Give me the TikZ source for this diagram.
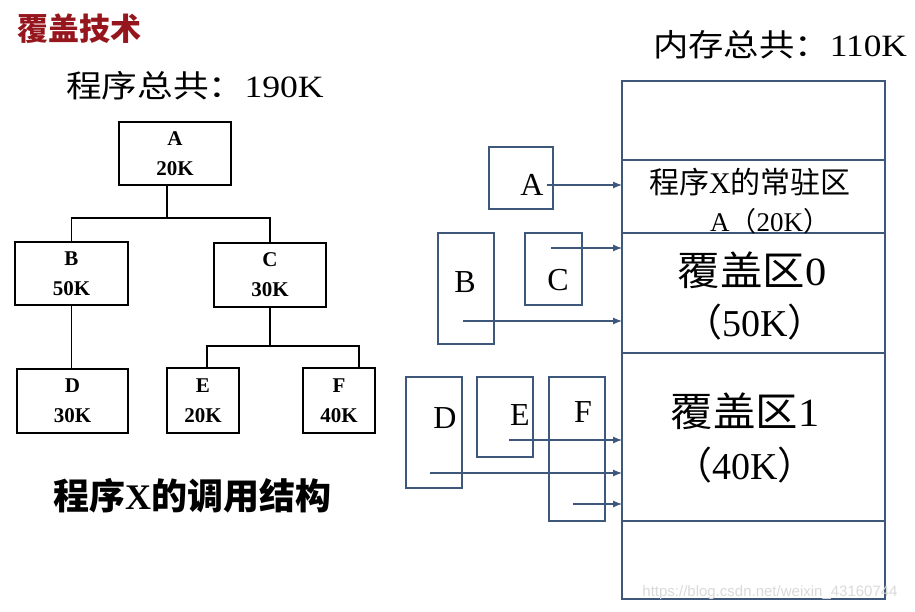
\documentclass[tikz,border=0pt]{standalone}
\usepackage{fontspec}
\usepackage{graphicx}
\usetikzlibrary{arrows.meta}
\setmainfont{Liberation Serif}
\newfontfamily\cjk{Noto Sans CJK SC}
\newfontfamily\wmfont{Liberation Sans}
\definecolor{titlered}{RGB}{150,22,30}
\definecolor{memblue}{RGB}{62,88,124}
\newcommand{\fs}[2]{\fontsize{#1}{#2}\selectfont}

\begin{document}
\begin{tikzpicture}[x=1pt,y=-1pt,>={Latex[length=9pt,width=7pt]},
  tbox/.style={draw,line width=1.6pt,inner sep=0pt,align=center,font=\bfseries\fs{21}{30}},
  pbox/.style={draw=memblue,line width=1.2pt,inner sep=0pt},
  sec/.style={draw=memblue,line width=1.3pt,minimum width=263pt,inner sep=0pt,outer sep=0pt,anchor=north west},
  ptr/.style={->,memblue,line width=1.1pt},
  tlink/.style={line width=1.6pt}]
  \useasboundingbox (0,0) rectangle (915,612);
  \node[text=titlered,font=\cjk\bfseries\fs{31}{31}] (title) at (79,29) {覆盖技术};
  \node[font=\fs{31}{31}] (total) at (195,86) {\scalebox{1.15}[1]{{\cjk 程序总共：}190K}};
  \node[font=\fs{31}{31}] (memtotal) at (780,45) {\scalebox{1.14}[1]{{\cjk 内存总共：}110K}};

  \node[tbox,minimum width=112pt,minimum height=63pt] (A) at (175,153.5) {A\\20K};
  \node[tbox,minimum width=113pt,minimum height=63pt] (B) at (71.5,273.5) {B\\50K};
  \node[tbox,minimum width=112pt,minimum height=64pt] (C) at (270,275) {C\\30K};
  \node[tbox,minimum width=111pt,minimum height=64pt] (D) at (72.5,401) {D\\30K};
  \node[tbox,minimum width=72pt,minimum height=65pt] (E) at (203,400.5) {E\\20K};
  \node[tbox,minimum width=72pt,minimum height=65pt] (F) at (339,400.5) {F\\40K};
  \draw[tlink] ([xshift=-8pt]A.south) -- ++(0,32) coordinate (ab) -| (B.north);
  \draw[tlink] (ab) -| (C.north);
  \draw[tlink] (B.south) -- (B.south |- D.north);
  \draw[tlink] (C.south) -- ++(0,38) coordinate (ce) -| ([xshift=4pt]E.north);
  \draw[tlink] (ce) -| ([xshift=20pt]F.north);
  \node[font=\bfseries\fs{36}{36}] (calls) at (192,496) {{\cjk 程序}X{\cjk 的调用结构}};

  \node[sec,minimum height=79pt] (top) at (622,81) {};
  \node[sec,minimum height=73pt] (res) at (top.south west) {};
  \node[sec,minimum height=120pt] (ov0) at (res.south west) {};
  \node[sec,minimum height=168pt] (ov1) at (ov0.south west) {};
  \node[sec,minimum height=78pt] (free) at (ov1.south west) {};
  \node[font=\fs{30}{30}] (resname) at (750,182) {{\cjk 程序}X{\cjk 的常驻区}};
  \node[font=\fs{27}{27}] (ressize) at (770,221) {A{\cjk （}20K{\cjk ）}};
  \node[font=\fs{40}{40}] (ov0name) at (752,270) {\scalebox{1.06}[1]{{\cjk 覆盖区}0}};
  \node[font=\fs{38}{38}] (ov0size) at (755,322) {{\cjk （}50K{\cjk ）}};
  \node[font=\fs{40}{40}] (ov1name) at (745,411) {\scalebox{1.06}[1]{{\cjk 覆盖区}1}};
  \node[font=\fs{38}{38}] (ov1size) at (745,465) {{\cjk （}40K{\cjk ）}};

  \node[pbox,minimum width=64pt,minimum height=62pt] (pA) at (521,178) {};
  \node[pbox,minimum width=56pt,minimum height=111pt] (pB) at (466,288.5) {};
  \node[pbox,minimum width=57pt,minimum height=72pt] (pC) at (553.5,269) {};
  \node[pbox,minimum width=56pt,minimum height=111pt] (pD) at (434,432.5) {};
  \node[pbox,minimum width=56pt,minimum height=80pt] (pE) at (505,417) {};
  \node[pbox,minimum width=56pt,minimum height=144pt] (pF) at (577,449) {};
  \node[font=\fs{32}{32}] (lA) at (532,185) {A};
  \node[font=\fs{32}{32}] (lB) at (465,282) {B};
  \node[font=\fs{32}{32}] (lC) at (558,280) {C};
  \node[font=\fs{32}{32}] (lD) at (445,418) {D};
  \node[font=\fs{32}{32}] (lE) at (520,415) {E};
  \node[font=\fs{32}{32}] (lF) at (583,412) {F};

  \coordinate (sC) at (551,248);
  \coordinate (sB) at (463,321);
  \coordinate (sE) at (509,440);
  \coordinate (sD) at (430,473);
  \coordinate (sF) at (573,504);
  \draw[ptr] (lA.east) -- (lA.east -| res.west);
  \draw[ptr] (sC) -- (sC -| ov0.west);
  \draw[ptr] (sB) -- (sB -| ov0.west);
  \draw[ptr] (sE) -- (sE -| ov1.west);
  \draw[ptr] (sD) -- (sD -| ov1.west);
  \draw[ptr] (sF) -- (sF -| ov1.west);

  \node[font=\wmfont\fs{15}{15},text=black!15] (wm) at (770,593) {https://blog.csdn.net/weixin\_43160744};
\end{tikzpicture}
\end{document}
